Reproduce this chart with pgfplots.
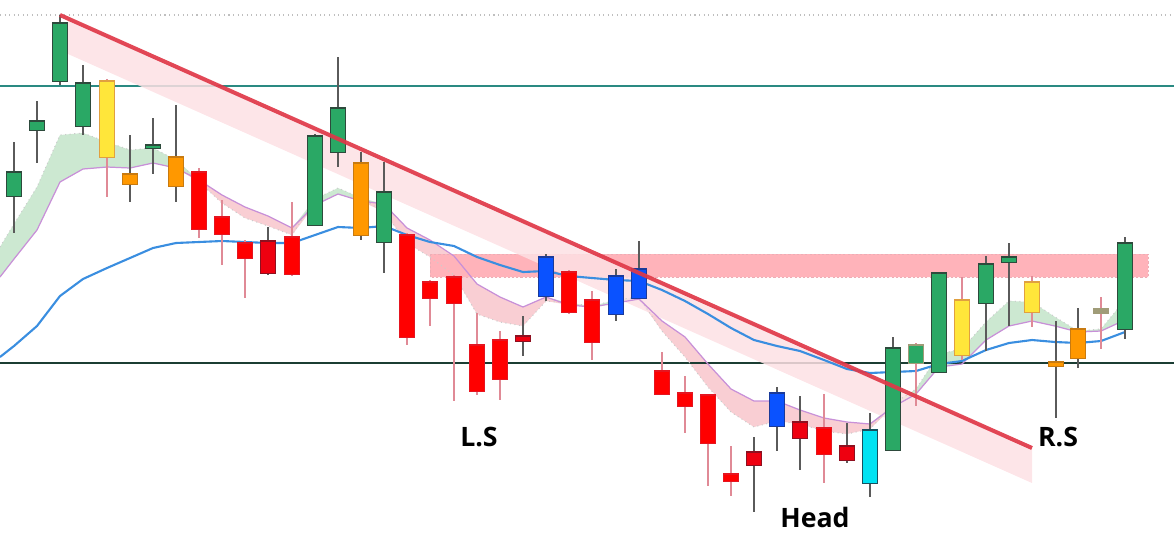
\documentclass[border=0pt]{standalone}
\usepackage{fontspec}
\usepackage{pgfplots}
\usepackage{pgfplotstable}
\pgfplotsset{compat=1.18}
\usepgfplotslibrary{fillbetween}
\newfontfamily\labfont{Open Sans}
\definecolor{tealline}{HTML}{2A8A82}
\definecolor{darkline}{HTML}{1B3D33}
\definecolor{emablue}{HTML}{3A8EE0}
\definecolor{violetl}{HTML}{C890D8}
\definecolor{trendred}{HTML}{E03848}
\definecolor{bandpink}{HTML}{FDE0E4}
\definecolor{zonepink}{HTML}{FFB3BA}
\definecolor{zoneedge}{HTML}{E58A96}
\definecolor{cloudgreen}{HTML}{C6E6CC}
\definecolor{cloudpink}{HTML}{F8C6CB}
\definecolor{cgreen}{HTML}{2AA865}
\definecolor{cgreenedge}{HTML}{2D4A3C}
\definecolor{cred}{HTML}{FF0000}
\definecolor{credge}{HTML}{E51520}
\definecolor{cdredge}{HTML}{8E1020}
\definecolor{cdred}{HTML}{EE0010}
\definecolor{cyellow}{HTML}{FFE63A}
\definecolor{cyellowedge}{HTML}{E0A040}
\definecolor{corange}{HTML}{FF9800}
\definecolor{corangeedge}{HTML}{C87A10}
\definecolor{cblue}{HTML}{0A52FF}
\definecolor{cblueedge}{HTML}{1A3A9A}
\definecolor{ccyan}{HTML}{00E2F2}
\definecolor{ccyanedge}{HTML}{17505E}
\definecolor{ckhaki}{HTML}{A09C78}
\definecolor{wickgray}{HTML}{5A5A5A}
\definecolor{wickpink}{HTML}{E08A96}

% candles: x, body top (o), body bottom (c), wick top (h), wick bottom (l) -- picture rows, top = 0
\pgfplotstableread{
x o c h l
14 172 196 142 233
37 121 130 101 163
60 23 81 15 85
83 83 126 65 135
153 145 148 118 174
315 136 225 134 226
338 108 152 57 167
384 192 242 162 273
893 348 450 337 450
939 273 372 272 372
986 264 303 256 351
1009 257 262 243 326
1125 243 329 237 339
}\greentab
\pgfplotstableread{
x o c h l
916 345 363 343 406
}\greenbtab
\pgfplotstableread{
x o c h l
199 172 229 168 238
222 217 234 200 265
245 243 258 240 298
292 237 274 202 276
407 235 337 233 345
430 282 298 280 326
454 277 303 275 401
477 345 391 313 395
500 340 379 331 400
569 272 312 270 314
592 300 342 291 360
662 371 394 352 394
685 393 406 376 433
708 395 443 395 486
731 474 481 446 496
824 428 454 394 483
}\redtab
\pgfplotstableread{
x o c h l
268 241 273 227 275
523 336 341 316 356
754 452 465 437 512
800 422 438 396 470
847 446 460 423 463
}\dredtab
\pgfplotstableread{
x o c h l
107 81 157 79 197
962 300 355 277 360
1032 282 312 276 327
}\yellowtab
\pgfplotstableread{
x o c h l
130 174 184 135 202
176 157 186 105 202
361 163 235 152 240
1056 362 366 321 418
1078 329 358 308 368
}\orangetab
\pgfplotstableread{
x o c h l
546 257 296 254 301
616 276 314 269 321
639 269 298 241 298
777 393 426 387 451
}\bluetab
\pgfplotstableread{
x o c h l
870 430 483 413 497
}\cyantab
\pgfplotstableread{
x o c h l
1101 309 313 297 349
}\khakitab

% moving averages: slow (violet), fast (cloud edge), ema (blue)
\pgfplotstableread{
x slow fast ema
0 277 247 357
14 259 224 346
37 230 187 326
60 182 135 296
83 169 133 279
107 167 142 268
130 168 150 258
153 163 148 248
176 168 160 243
199 180 182 242
222 195 203 241
245 207 218 242
268 216 226 243
292 228 235 243
315 205 199 235
338 194 188 227
361 201 198 228
384 204 212 226
407 228 243 235
430 240 257 242
454 256 275 246
477 284 314 257
500 297 322 265
523 307 326 272
546 297 301 271
569 305 303 276
592 307 306 278
616 303 300 280
639 299 297 281
662 321 331 290
685 337 357 301
708 364 387 314
731 389 412 328
754 401 427 340
777 401 421 346
800 410 424 351
824 418 431 360
847 422 434 369
870 424 429 373
893 407 404 372
916 394 389 371
939 367 354 364
962 364 349 361
986 340 322 350
1009 326 301 343
1032 321 302 340
1055 326 317 342
1078 332 331 343
1101 331 329 341
1125 320 300 332
}\matab

\pgfplotsset{
  wick/.style={draw=none, mark=none, forget plot,
    error bars/.cd, y dir=both, y explicit, error mark=none,
    error bar style={draw=#1, line width=0.32pt, solid}},
  body/.style 2 args={draw=none, mark=none, forget plot,
    error bars/.cd, y dir=both, y explicit, error mark=none,
    error bar style={draw=#1, line width=#2, solid}},
}
\newcommand\candles[4]{%
  \addplot[wick=#2] table[x=x, y expr={(\thisrow{h}+\thisrow{l})/2}, y error expr={(\thisrow{l}-\thisrow{h})/2}] {#1};
  \addplot[body={#3}{4.75pt}] table[x=x, y expr={(\thisrow{o}+\thisrow{c})/2}, y error expr={(\thisrow{c}-\thisrow{o})/2+0.6}] {#1};
  \addplot[body={#4}{4.15pt}] table[x=x, y expr={(\thisrow{o}+\thisrow{c})/2}, y error expr={max((\thisrow{c}-\thisrow{o})/2-0.5,0.5)}] {#1};
}

\begin{document}
\begin{tikzpicture}
\begin{axis}[
  width=11.74cm, height=5.44cm, scale only axis,
  xmin=0, xmax=1174, ymin=0, ymax=544, y dir=reverse,
  hide axis, clip=true,
]
% background guide lines
\addplot[densely dotted, color=black!25, line width=0.3pt] coordinates {(0,15) (1174,15)};
\addplot[tealline, line width=0.75pt] coordinates {(0,86) (1174,86)};
\addplot[darkline, line width=0.7pt] coordinates {(0,363) (1174,363)};
% resistance zone
\addplot[fill=zonepink, draw=zoneedge!70, dash pattern=on 0.6pt off 0.6pt, line width=0.18pt] coordinates {(430,254) (1148,254) (1148,277) (430,277) (430,254)};
% band below trendline
\addplot[fill=bandpink, draw=none, fill opacity=0.85] coordinates {(68,19) (1032,448) (1032,483) (68,54) (68,19)};
% cloud between the two averages
\addplot[name path=slow, draw=none] table[x=x, y=slow] {\matab};
\addplot[name path=gup, draw=none] table[x=x, y expr={min(\thisrow{slow},\thisrow{fast})}] {\matab};
\addplot[name path=pdn, draw=none] table[x=x, y expr={max(\thisrow{slow},\thisrow{fast})}] {\matab};
\addplot[cloudgreen, fill opacity=0.9] fill between[of=slow and gup];
\addplot[cloudpink, fill opacity=0.85] fill between[of=slow and pdn];
\addplot[densely dotted, color=black!20, line width=0.3pt] table[x=x, y=fast] {\matab};
\addplot[violetl, line width=0.35pt] table[x=x, y=slow] {\matab};
\addplot[emablue, line width=0.6pt] table[x=x, y=ema] {\matab};
% candles
\candles{\greentab}{wickgray}{cgreenedge}{cgreen}
\candles{\greenbtab}{wickpink}{ckhaki}{cgreen}
\candles{\redtab}{wickpink}{credge}{cred}
\candles{\dredtab}{wickgray}{cdredge}{cdred}
\candles{\yellowtab}{wickpink}{cyellowedge}{cyellow}
\candles{\orangetab}{wickgray}{corangeedge}{corange}
\candles{\bluetab}{wickgray}{cblueedge}{cblue}
\candles{\cyantab}{wickgray}{ccyanedge}{ccyan}
\candles{\khakitab}{wickpink}{ckhaki}{ckhaki}
% trendline
\addplot[trendred, line width=1.15pt, opacity=0.92] coordinates {(60,15) (1032,448)};
% labels
\node[font=\labfont\bfseries\fontsize{7.6}{9}\selectfont] at (axis cs:479,437) {L.S};
\node[font=\labfont\bfseries\fontsize{7.6}{9}\selectfont] at (axis cs:815,517) {Head};
\node[font=\labfont\bfseries\fontsize{7.6}{9}\selectfont] at (axis cs:1058,437) {R.S};
\coordinate (sw) at (rel axis cs:0,0);
\coordinate (ne) at (rel axis cs:1,1);
\end{axis}
\pgfresetboundingbox
\path (sw) rectangle (ne);
\end{tikzpicture}
\end{document}
